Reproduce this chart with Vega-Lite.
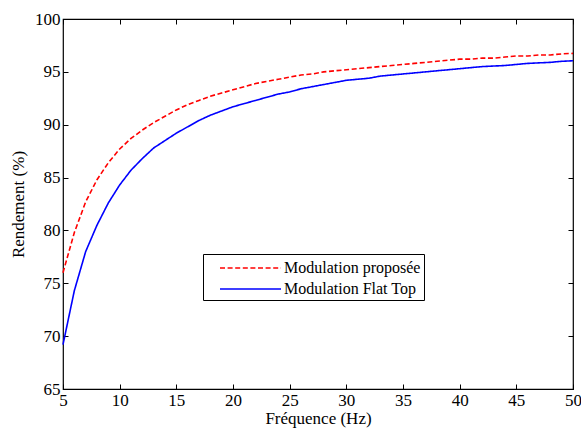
{
  "$schema": "https://vega.github.io/schema/vega-lite/v6.json",
  "width": 510,
  "height": 370,
  "autosize": {"type": "none"},
  "padding": {"left": 63, "top": 19, "right": 8, "bottom": 41},
  "background": "white",
  "config": {
    "font": "Liberation Serif",
    "view": {"stroke": "black", "strokeWidth": 1.2},
    "style": {
      "guide-label": {"font": "Liberation Serif", "fontSize": 17, "fill": "black"},
      "guide-title": {"font": "Liberation Serif", "fontSize": 17, "fill": "black", "fontWeight": "normal"}
    }
  },
  "data": {
    "values": [
      {"f": 5, "r": 76.0, "serie": "Modulation proposée"},
      {"f": 6, "r": 79.8, "serie": "Modulation proposée"},
      {"f": 7, "r": 82.7, "serie": "Modulation proposée"},
      {"f": 8, "r": 84.8, "serie": "Modulation proposée"},
      {"f": 9, "r": 86.4, "serie": "Modulation proposée"},
      {"f": 10, "r": 87.7, "serie": "Modulation proposée"},
      {"f": 11, "r": 88.7, "serie": "Modulation proposée"},
      {"f": 12, "r": 89.5, "serie": "Modulation proposée"},
      {"f": 13, "r": 90.2, "serie": "Modulation proposée"},
      {"f": 14, "r": 90.8, "serie": "Modulation proposée"},
      {"f": 15, "r": 91.4, "serie": "Modulation proposée"},
      {"f": 16, "r": 91.9, "serie": "Modulation proposée"},
      {"f": 17, "r": 92.3, "serie": "Modulation proposée"},
      {"f": 18, "r": 92.7, "serie": "Modulation proposée"},
      {"f": 19, "r": 93.0, "serie": "Modulation proposée"},
      {"f": 20, "r": 93.3, "serie": "Modulation proposée"},
      {"f": 21, "r": 93.6, "serie": "Modulation proposée"},
      {"f": 22, "r": 93.9, "serie": "Modulation proposée"},
      {"f": 23, "r": 94.1, "serie": "Modulation proposée"},
      {"f": 24, "r": 94.3, "serie": "Modulation proposée"},
      {"f": 25, "r": 94.5, "serie": "Modulation proposée"},
      {"f": 26, "r": 94.7, "serie": "Modulation proposée"},
      {"f": 27, "r": 94.8, "serie": "Modulation proposée"},
      {"f": 28, "r": 95.0, "serie": "Modulation proposée"},
      {"f": 29, "r": 95.1, "serie": "Modulation proposée"},
      {"f": 30, "r": 95.2, "serie": "Modulation proposée"},
      {"f": 31, "r": 95.3, "serie": "Modulation proposée"},
      {"f": 32, "r": 95.4, "serie": "Modulation proposée"},
      {"f": 33, "r": 95.5, "serie": "Modulation proposée"},
      {"f": 34, "r": 95.6, "serie": "Modulation proposée"},
      {"f": 35, "r": 95.7, "serie": "Modulation proposée"},
      {"f": 36, "r": 95.8, "serie": "Modulation proposée"},
      {"f": 37, "r": 95.9, "serie": "Modulation proposée"},
      {"f": 38, "r": 96.0, "serie": "Modulation proposée"},
      {"f": 39, "r": 96.1, "serie": "Modulation proposée"},
      {"f": 40, "r": 96.2, "serie": "Modulation proposée"},
      {"f": 41, "r": 96.2, "serie": "Modulation proposée"},
      {"f": 42, "r": 96.3, "serie": "Modulation proposée"},
      {"f": 43, "r": 96.3, "serie": "Modulation proposée"},
      {"f": 44, "r": 96.4, "serie": "Modulation proposée"},
      {"f": 45, "r": 96.5, "serie": "Modulation proposée"},
      {"f": 46, "r": 96.5, "serie": "Modulation proposée"},
      {"f": 47, "r": 96.6, "serie": "Modulation proposée"},
      {"f": 48, "r": 96.6, "serie": "Modulation proposée"},
      {"f": 49, "r": 96.7, "serie": "Modulation proposée"},
      {"f": 50, "r": 96.75, "serie": "Modulation proposée"},
      {"f": 5, "r": 69.2, "serie": "Modulation Flat Top"},
      {"f": 6, "r": 74.3, "serie": "Modulation Flat Top"},
      {"f": 7, "r": 78.0, "serie": "Modulation Flat Top"},
      {"f": 8, "r": 80.5, "serie": "Modulation Flat Top"},
      {"f": 9, "r": 82.6, "serie": "Modulation Flat Top"},
      {"f": 10, "r": 84.3, "serie": "Modulation Flat Top"},
      {"f": 11, "r": 85.7, "serie": "Modulation Flat Top"},
      {"f": 12, "r": 86.8, "serie": "Modulation Flat Top"},
      {"f": 13, "r": 87.8, "serie": "Modulation Flat Top"},
      {"f": 14, "r": 88.5, "serie": "Modulation Flat Top"},
      {"f": 15, "r": 89.2, "serie": "Modulation Flat Top"},
      {"f": 16, "r": 89.8, "serie": "Modulation Flat Top"},
      {"f": 17, "r": 90.4, "serie": "Modulation Flat Top"},
      {"f": 18, "r": 90.9, "serie": "Modulation Flat Top"},
      {"f": 19, "r": 91.3, "serie": "Modulation Flat Top"},
      {"f": 20, "r": 91.7, "serie": "Modulation Flat Top"},
      {"f": 21, "r": 92.0, "serie": "Modulation Flat Top"},
      {"f": 22, "r": 92.3, "serie": "Modulation Flat Top"},
      {"f": 23, "r": 92.6, "serie": "Modulation Flat Top"},
      {"f": 24, "r": 92.9, "serie": "Modulation Flat Top"},
      {"f": 25, "r": 93.1, "serie": "Modulation Flat Top"},
      {"f": 26, "r": 93.4, "serie": "Modulation Flat Top"},
      {"f": 27, "r": 93.6, "serie": "Modulation Flat Top"},
      {"f": 28, "r": 93.8, "serie": "Modulation Flat Top"},
      {"f": 29, "r": 94.0, "serie": "Modulation Flat Top"},
      {"f": 30, "r": 94.2, "serie": "Modulation Flat Top"},
      {"f": 31, "r": 94.3, "serie": "Modulation Flat Top"},
      {"f": 32, "r": 94.4, "serie": "Modulation Flat Top"},
      {"f": 33, "r": 94.6, "serie": "Modulation Flat Top"},
      {"f": 34, "r": 94.7, "serie": "Modulation Flat Top"},
      {"f": 35, "r": 94.8, "serie": "Modulation Flat Top"},
      {"f": 36, "r": 94.9, "serie": "Modulation Flat Top"},
      {"f": 37, "r": 95.0, "serie": "Modulation Flat Top"},
      {"f": 38, "r": 95.1, "serie": "Modulation Flat Top"},
      {"f": 39, "r": 95.2, "serie": "Modulation Flat Top"},
      {"f": 40, "r": 95.3, "serie": "Modulation Flat Top"},
      {"f": 41, "r": 95.4, "serie": "Modulation Flat Top"},
      {"f": 42, "r": 95.5, "serie": "Modulation Flat Top"},
      {"f": 43, "r": 95.55, "serie": "Modulation Flat Top"},
      {"f": 44, "r": 95.6, "serie": "Modulation Flat Top"},
      {"f": 45, "r": 95.7, "serie": "Modulation Flat Top"},
      {"f": 46, "r": 95.8, "serie": "Modulation Flat Top"},
      {"f": 47, "r": 95.85, "serie": "Modulation Flat Top"},
      {"f": 48, "r": 95.9, "serie": "Modulation Flat Top"},
      {"f": 49, "r": 96.0, "serie": "Modulation Flat Top"},
      {"f": 50, "r": 96.05, "serie": "Modulation Flat Top"}
    ]
  },
  "encoding": {
    "x": {
      "field": "f",
      "type": "quantitative",
      "scale": {"domain": [5, 50], "nice": false, "zero": false}
    },
    "y": {
      "field": "r",
      "type": "quantitative",
      "scale": {"domain": [65, 100], "nice": false, "zero": false}
    }
  },
  "layer": [
    {
      "mark": {"type": "line", "strokeWidth": 1.6},
      "encoding": {
        "x": {
          "field": "f",
          "type": "quantitative",
          "axis": {
            "orient": "bottom",
            "title": "Fréquence (Hz)",
            "values": [5, 10, 15, 20, 25, 30, 35, 40, 45, 50],
            "grid": false,
            "domain": false,
            "offset": -5,
            "tickSize": 5,
            "tickWidth": 1,
            "tickColor": "black",
            "labelFlush": false,
            "labelFont": "Liberation Serif",
            "labelFontSize": 17,
            "labelColor": "black",
            "labelPadding": 3,
            "titleFont": "Liberation Serif",
            "titleFontSize": 17,
            "titleFontWeight": "normal",
            "titleColor": "black",
            "titlePadding": 2
          }
        },
        "y": {
          "field": "r",
          "type": "quantitative",
          "axis": {
            "orient": "left",
            "title": "Rendement (%)",
            "values": [65, 70, 75, 80, 85, 90, 95, 100],
            "grid": false,
            "domain": false,
            "offset": -5,
            "tickSize": 5,
            "tickWidth": 1,
            "tickColor": "black",
            "labelFont": "Liberation Serif",
            "labelFontSize": 17,
            "labelColor": "black",
            "labelPadding": 3,
            "titleFont": "Liberation Serif",
            "titleFontSize": 17,
            "titleFontWeight": "normal",
            "titleColor": "black",
            "titlePadding": 7
          }
        },
        "color": {
          "field": "serie",
          "type": "nominal",
          "scale": {
            "domain": ["Modulation proposée", "Modulation Flat Top"],
            "range": ["#ff0000", "#0000ff"]
          },
          "legend": {
            "title": null,
            "orient": "none",
            "legendX": 140,
            "legendY": 235,
            "direction": "vertical",
            "symbolType": "M0.3,0H6.4",
            "symbolSize": 400,
            "symbolStrokeWidth": 1.6,
            "labelFont": "Liberation Serif",
            "labelFontSize": 16,
            "labelColor": "black",
            "labelLimit": 300,
            "labelOffset": 56,
            "fillColor": "white",
            "strokeColor": "black",
            "padding": 3,
            "rowPadding": 2
          }
        },
        "strokeDash": {
          "field": "serie",
          "type": "nominal",
          "scale": {
            "domain": ["Modulation proposée", "Modulation Flat Top"],
            "range": [[5, 2.6], [1, 0]]
          },
          "legend": null
        }
      }
    },
    {
      "mark": {"type": "point", "opacity": 0},
      "encoding": {
        "x": {
          "field": "f",
          "type": "quantitative",
          "axis": {
            "orient": "top",
            "title": null,
            "labels": false,
            "values": [5, 10, 15, 20, 25, 30, 35, 40, 45, 50],
            "grid": false,
            "domain": false,
            "offset": -5,
            "tickSize": 5,
            "tickWidth": 1,
            "tickColor": "black"
          }
        },
        "y": {
          "field": "r",
          "type": "quantitative",
          "axis": {
            "orient": "right",
            "title": null,
            "labels": false,
            "values": [65, 70, 75, 80, 85, 90, 95, 100],
            "grid": false,
            "domain": false,
            "offset": -5,
            "tickSize": 5,
            "tickWidth": 1,
            "tickColor": "black"
          }
        }
      }
    }
  ]
}
